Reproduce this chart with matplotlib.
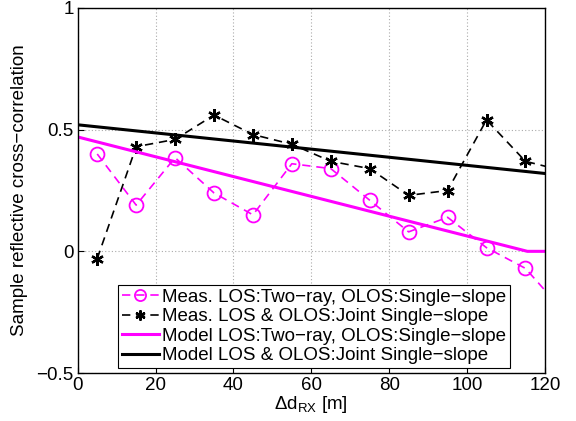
import matplotlib
matplotlib.use("Agg")
import matplotlib.pyplot as plt

plt.rcParams['font.family'] = ['Liberation Sans', 'DejaVu Sans']

# measured points (x in m), last point lies just outside the axes
dist = [5, 15, 25, 35, 45, 55, 65, 75, 85, 95, 105, 115, 125]
meas_tworay = [0.40, 0.19, 0.385, 0.24, 0.15, 0.36, 0.34, 0.21, 0.08, 0.14, 0.015, -0.07, -0.25]
meas_joint = [-0.03, 0.43, 0.46, 0.56, 0.48, 0.44, 0.37, 0.34, 0.23, 0.25, 0.54, 0.37, 0.33]

# model curves
model_tworay_x = [0, 115.5, 120]
model_tworay_y = [0.47, 0.0, 0.0]
model_joint_x = [0, 120]
model_joint_y = [0.52, 0.32]

labels = ["Meas. LOS:Two\u2212ray, OLOS:Single\u2212slope",
          "Meas. LOS & OLOS:Joint Single\u2212slope",
          "Model LOS:Two\u2212ray, OLOS:Single\u2212slope",
          "Model LOS & OLOS:Joint Single\u2212slope"]

fs = 13.5

fig = plt.figure(figsize=(5.76, 4.21), dpi=100)
ax = fig.add_axes([0.135, 0.114, 0.811, 0.867])

ax.plot(dist, meas_tworay, color='magenta', lw=1.2, ls=(0, (5, 3.5)), marker='o', ms=10,
        mfc='none', mew=1.3, label=labels[0])
ax.plot(dist, meas_joint, color='black', lw=1.2, ls=(0, (5, 3.5)), marker=(6, 2, 0), ms=9,
        mew=1.7, label=labels[1])
ax.plot(model_tworay_x, model_tworay_y, '-', color='magenta', lw=2.2, label=labels[2])
ax.plot(model_joint_x, model_joint_y, '-', color='black', lw=2.2, label=labels[3])

ax.set_xlim(0, 120)
ax.set_ylim(-0.5, 1)
ax.set_xticks([0, 20, 40, 60, 80, 100, 120])
ax.set_yticks([-0.5, 0, 0.5, 1])
ax.set_yticklabels(['\u22120.5', '0', '0.5', '1'])
ax.grid(True, color='#aaaaaa', linestyle=(0, (1, 2)), linewidth=0.8)
ax.tick_params(direction='in', labelsize=fs, length=4, pad=3)
for s in ax.spines.values():
    s.set_linewidth(1.0)
ax.set_xlabel('\u0394d$_\\mathregular{RX}$ [m]', fontsize=fs, labelpad=0)
ax.set_ylabel('Sample reflective cross\u2212correlation', fontsize=fs, labelpad=6)

leg = ax.legend(loc='lower left', bbox_to_anchor=(0.086, 0.014), fontsize=fs,
                frameon=True, fancybox=False, edgecolor='black', framealpha=1,
                borderpad=0.2, labelspacing=0.12, handlelength=2.0,
                handletextpad=0.15, borderaxespad=0, markerscale=0.8)
leg.get_frame().set_linewidth(0.8)

fig.savefig('out.png', dpi=100)
